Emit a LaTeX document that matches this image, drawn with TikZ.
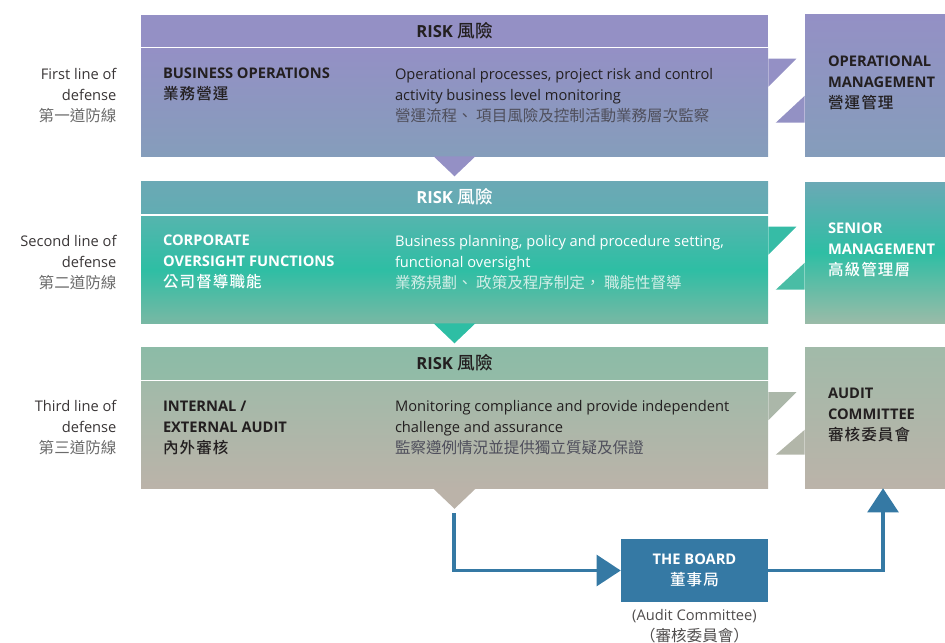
\documentclass[tikz,border=0pt]{standalone}
\usepackage{fontspec}
\setmainfont{Open Sans}
\newfontfamily\cjk[Scale=1.06, BoldFont={Noto Sans CJK TC Medium}]{Noto Sans CJK TC}
\newfontfamily\cjkt[Scale=1.06, LetterSpace=7, BoldFont={Noto Sans CJK TC Medium}]{Noto Sans CJK TC}
\usepackage{tikz}
\usetikzlibrary{arrows.meta, positioning, calc}

\definecolor{purpleband}{HTML}{9490C5}
\definecolor{purplelow}{HTML}{859DBB}
\definecolor{tealhead}{HTML}{6BA9B5}
\definecolor{tealtop}{HTML}{55B5AE}
\definecolor{tealmid}{HTML}{2EBEA4}
\definecolor{teallow}{HTML}{78B8A4}
\definecolor{tealside}{HTML}{9ABBA8}
\definecolor{sagehead}{HTML}{8FBBA7}
\definecolor{sagetop}{HTML}{A1BAA9}
\definecolor{sagelow}{HTML}{BBB3A9}
\definecolor{boardblue}{HTML}{3579A4}
\definecolor{inkdark}{HTML}{231F20}
\definecolor{inkgrey}{HTML}{6B6B6B}
\definecolor{descgrey}{HTML}{4F4F5C}
\definecolor{descpale}{HTML}{D2EEE7}

\newcommand{\lsize}{\fontsize{11}{15.75}\selectfont}

\tikzset{
    header/.style={
        rectangle,
        draw=none,
        inner sep=0pt,
        minimum width=470.25pt,
        minimum height=24pt,
        font=\fontsize{12.5}{15}\selectfont\bfseries
    },
    body/.style={
        rectangle,
        draw=none,
        inner sep=0pt,
        minimum width=470.25pt,
        minimum height=80.25pt
    },
    side/.style={
        rectangle,
        draw=none,
        inner sep=0pt,
        minimum width=117pt,
        minimum height=105.75pt
    },
    txt/.style={
        inner sep=0pt,
        anchor=north west,
        align=left,
        font=\lsize
    },
    title/.style={
        txt,
        font=\lsize\bfseries
    },
    lineof/.style={
        inner sep=0pt,
        anchor=north east,
        align=right,
        font=\lsize,
        text=inkdark!90
    },
    board/.style={
        rectangle,
        fill=boardblue,
        inner sep=0pt,
        minimum width=110.25pt,
        minimum height=47.25pt,
        align=center,
        text=white,
        font=\lsize\bfseries
    },
    link/.style={
        draw=boardblue,
        line width=2.6pt,
        -{Triangle[length=18pt, width=23pt]}
    },
}

\begin{document}
\begin{tikzpicture}[x=0.75pt, y=-0.75pt]
\useasboundingbox (0,0) rectangle (945,642);

% First line of defense
\node[header, fill=purpleband, text=inkdark] (risk1) at (454.5,31) {RISK {\cjk 風險}};
\node[body, top color=purpleband, bottom color=purplelow] (line1) at (454.5,102.5) {};
\node[side, top color=purpleband, bottom color=purplelow] (mgmt1) at (883,85.5) {};
\fill[purpleband] ($(line1.north east)+(0,10)$) -- ++(28,0) -- ++(-28,28) -- cycle;
\fill[purpleband!92!purplelow] ($(mgmt1.north west)+(0,81)$) -- ++(0,27) -- ++(-29,0) -- cycle;
\fill[purpleband] ($(line1.south)+(-21,0)$) -- ++(42,0) -- ++(-21,20) -- cycle;

\node[lineof] (def1) at ($(line1.north west)+(-24,19)$) {First line of\\defense\\{\cjk\color{inkgrey}第一道防線}};
\node[title, text=inkdark] (title1) at ($(line1.north west)+(22,19)$) {BUSINESS OPERATIONS\\{\cjkt 業務營運}};
\node[txt, text=inkdark] (desc1) at ($(line1.north west)+(254,19)$) {Operational processes, project risk and control\\activity business level monitoring\\{\cjk\color{descgrey}營運流程、 項目風險及控制活動業務層次監察}};
\node[title, text=inkdark] (who1) at ($(mgmt1.north west)+(23,41)$) {OPERATIONAL\\MANAGEMENT\\{\cjkt 營運管理}};

% Second line of defense
\node[header, top color=tealhead, bottom color=tealhead!85!tealmid, text=white] (risk2) at (454.5,197) {RISK {\cjk 風險}};
\node[body, top color=tealtop, bottom color=teallow, middle color=tealmid] (line2) at (454.5,269.5) {};
\node[side, top color=tealhead, bottom color=tealside, middle color=tealmid] (mgmt2) at (883,252.5) {};
\fill[tealmid!80!tealtop] ($(line2.north east)+(0,11)$) -- ++(28,0) -- ++(-28,28) -- cycle;
\fill[tealmid!75!tealside] ($(mgmt2.north west)+(0,81)$) -- ++(0,27) -- ++(-29,0) -- cycle;
\fill[tealmid] ($(line2.south)+(-21,0)$) -- ++(42,0) -- ++(-21,20) -- cycle;

\node[lineof] (def2) at ($(line2.north west)+(-24,19)$) {Second line of\\defense\\{\cjk\color{inkgrey}第二道防線}};
\node[title, text=white] (title2) at ($(line2.north west)+(22,19)$) {CORPORATE\\OVERSIGHT FUNCTIONS\\{\cjkt 公司督導職能}};
\node[txt, text=white] (desc2) at ($(line2.north west)+(254,19)$) {Business planning, policy and procedure setting,\\functional oversight\\{\cjk\color{descpale}業務規劃、 政策及程序制定， 職能性督導}};
\node[title, text=white] (who2) at ($(mgmt2.north west)+(23,41)$) {SENIOR\\MANAGEMENT\\{\cjkt 高級管理層}};

% Third line of defense
\node[header, top color=sagehead!90!teallow, bottom color=sagehead!80!sagetop, text=inkdark] (risk3) at (454.5,363) {RISK {\cjk 風險}};
\node[body, top color=sagetop, bottom color=sagelow] (line3) at (454.5,435) {};
\node[side, top color=sagetop, bottom color=sagelow] (audit) at (883,417.5) {};
\fill[sagetop!60!sagelow] ($(line3.north east)+(0,11)$) -- ++(28,0) -- ++(-28,28) -- cycle;
\fill[sagetop!35!sagelow] ($(audit.north west)+(0,83)$) -- ++(0,25) -- ++(-29,0) -- cycle;
\fill[sagelow] ($(line3.south)+(-21,0)$) -- ++(42,0) -- ++(-21,20) -- cycle;

\node[lineof] (def3) at ($(line3.north west)+(-24,19)$) {Third line of\\defense\\{\cjk\color{inkgrey}第三道防線}};
\node[title, text=inkdark] (title3) at ($(line3.north west)+(22,19)$) {INTERNAL /\\EXTERNAL AUDIT\\{\cjkt 內外審核}};
\node[txt, text=inkdark] (desc3) at ($(line3.north west)+(254,19)$) {Monitoring compliance and provide independent\\challenge and assurance\\{\cjk\color{descgrey}監察遵例情況並提供獨立質疑及保證}};
\node[title, text=inkdark] (who3) at ($(audit.north west)+(23,41)$) {AUDIT\\COMMITTEE\\{\cjkt 審核委員會}};

% The board
\node[board] (board) at (694.5,570.5) {THE BOARD\\{\cjkt 董事局}};
\node[align=center, inner sep=0pt, font=\lsize, text=inkdark!80, below=5pt of board] (boardnote) {(Audit Committee)\\{\cjk （審核委員會）}};

% Arrows
\coordinate (start) at (454,513);
\draw[link] (start) |- (board.west);
\draw[link] (board.east) -| (audit.south);

\end{tikzpicture}
\end{document}
